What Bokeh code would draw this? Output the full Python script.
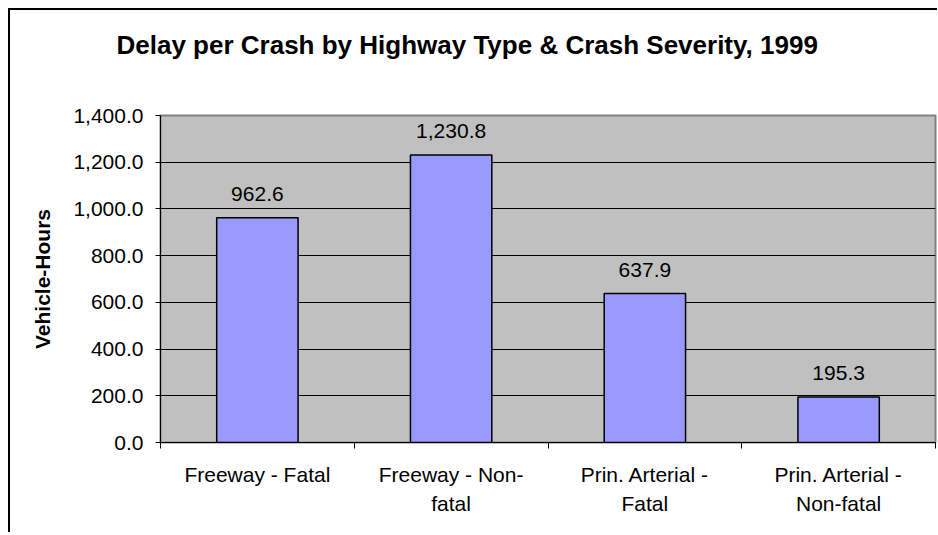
import numpy as np
from bokeh.plotting import figure
from bokeh.models import ColumnDataSource, FixedTicker, NumeralTickFormatter, Range1d, Title
from bokeh.core.properties import value
from bokeh.embed import file_html
from bokeh.resources import INLINE

categories = ["Freeway - Fatal", "Freeway - Non-\nfatal", "Prin. Arterial -\nFatal", "Prin. Arterial -\nNon-fatal"]
delay = [962.6, 1230.8, 637.9, 195.3]
y_ticks = [0, 200, 400, 600, 800, 1000, 1200, 1400]
title_text = "Delay per Crash by Highway Type & Crash Severity, 1999"
y_label = "Vehicle-Hours"

FONT = "Liberation Sans"

n = len(categories)
xpos = np.arange(n) + 0.5
labels = ["{:,.1f}".format(v) for v in delay]
src = ColumnDataSource(dict(x=xpos, top=delay, label=labels))

p = figure(
    title=None,
    frame_width=775, frame_height=327,
    min_border_left=150, min_border_top=105, min_border_right=2, min_border_bottom=90,
    x_range=Range1d(0, n), y_range=Range1d(y_ticks[0], y_ticks[-1]),
    output_backend="svg", toolbar_location=None,
    background_fill_color="#C0C0C0", border_fill_color="white",
)
p.styles = {"border-top": "2px solid #000000", "border-left": "2px solid #000000",
            "margin-left": "8px", "margin-top": "8px"}

# spacer between title and plot area (closest to the frame)
p.add_layout(Title(text=" ", text_font_size="2px", standoff=47), "above")
# main title (outermost)
p.add_layout(Title(text=title_text, align="left", offset=-44, standoff=10,
                   text_font=FONT, text_font_size="26px", text_font_style="bold",
                   text_color="#000000"), "above")

p.vbar(x="x", top="top", bottom=0, width=0.42, source=src,
       fill_color="#9999FF", line_color="#000000", line_width=1.5)
p.text(x="x", y="top", text="label", source=src, text_align="center", text_baseline="middle",
       y_offset=-24, text_font=value(FONT), text_font_size="21px", text_color="#000000")

p.outline_line_color = "#808080"
p.outline_line_width = 2

p.xgrid.visible = False
p.ygrid.grid_line_color = "#000000"
p.ygrid.grid_line_width = 1
p.ygrid.ticker = FixedTicker(ticks=y_ticks[1:-1])

# y axis
p.yaxis.ticker = FixedTicker(ticks=y_ticks, minor_ticks=[])
p.yaxis.formatter = NumeralTickFormatter(format="0,0.0")
p.yaxis.axis_label = y_label
p.yaxis.axis_label_text_font = FONT
p.yaxis.axis_label_text_font_size = "21px"
p.yaxis.axis_label_text_font_style = "bold"
p.yaxis.axis_label_text_color = "#000000"
p.yaxis.axis_label_standoff = 16
p.yaxis.major_label_text_font = FONT
p.yaxis.major_label_text_font_size = "21px"
p.yaxis.major_label_text_color = "#000000"
p.yaxis.major_label_standoff = 12
p.yaxis.major_tick_out = 5
p.yaxis.major_tick_in = 0
p.yaxis.minor_tick_line_color = None
p.yaxis.axis_line_color = "#000000"
p.yaxis.major_tick_line_color = "#000000"

# x axis: ticks at category boundaries, labels at centers
p.xaxis.ticker = FixedTicker(ticks=list(xpos), minor_ticks=list(np.arange(n + 1)))
p.xaxis.major_label_overrides = {float(x): c for x, c in zip(xpos, categories)}
p.xaxis.major_tick_out = 0
p.xaxis.major_tick_in = 0
p.xaxis.minor_tick_out = 6
p.xaxis.minor_tick_in = 0
p.xaxis.minor_tick_line_color = "#000000"
p.xaxis.axis_line_color = "#000000"
p.xaxis.major_label_standoff = 14
p.xaxis.major_label_text_font = FONT
p.xaxis.major_label_text_font_size = "21px"
p.xaxis.major_label_text_color = "#000000"
p.xaxis.major_label_text_line_height = 1.27

open("out.html", "w").write(file_html(p, INLINE))
